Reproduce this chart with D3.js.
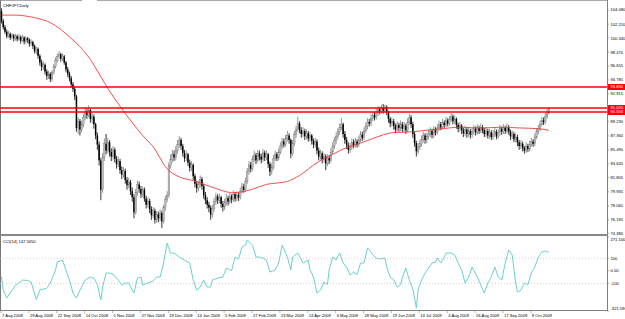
<!DOCTYPE html>
<html>
<head>
<meta charset="utf-8">
<script src="https://cdnjs.cloudflare.com/ajax/libs/d3/7.8.5/d3.min.js"></script>
<style>
  html, body { margin: 0; padding: 0; background: #fff; }
  svg { display: block; font-family: "Liberation Sans", Arial, sans-serif; }
</style>
</head>
<body>
<div id="chart"></div>
<script>
// CHFJPY daily, 7 Aug 2008 .. late Oct 2009 (one value per bar, open = previous close)
const firstOpen = 103.9;
const closes = [
  102.6,101.8,101.2,100.6,100.9,100.4,100.7,100.3,100.6,100.2,
  100.5,100.0,100.4,99.9,100.3,100.1,99.6,99.8,99.3,98.6,
  98.9,98.0,97.1,96.5,96.8,95.9,95.3,95.6,94.9,95.8,
  96.6,97.4,97.9,98.2,97.6,97.9,97.1,96.2,95.6,95.0,
  94.2,93.6,92.6,88.4,89.3,88.2,88.9,89.8,90.6,90.1,
  90.8,89.6,89.9,88.9,87.4,86.2,84.1,80.2,84.5,86.3,
  85.4,86.5,85.2,84.6,85.5,84.3,83.6,84.0,82.8,82.2,
  82.7,81.5,80.8,81.2,80.0,79.2,77.2,79.8,80.9,80.3,
  79.6,80.2,79.0,78.2,78.7,77.6,76.8,77.4,76.2,76.9,
  76.4,77.1,76.0,77.8,78.9,79.4,83.4,84.2,84.9,84.5,
  85.4,86.2,86.8,86.0,85.1,84.4,84.9,83.8,83.1,83.5,
  82.0,81.0,80.4,80.9,81.6,80.7,79.5,78.8,78.2,77.8,
  76.9,77.7,78.6,79.3,78.8,79.2,78.3,77.9,78.5,79.1,
  78.6,79.3,78.9,79.6,79.0,79.5,79.2,80.0,80.6,80.2,
  81.3,82.6,83.5,83.0,84.2,84.8,84.1,85.0,84.6,84.2,
  85.1,84.5,84.9,83.6,82.6,83.2,84.3,84.9,84.4,85.2,
  86.0,86.6,86.2,87.0,87.4,86.8,85.0,86.3,87.5,88.2,
  89.0,88.1,87.6,88.0,87.3,87.7,87.0,87.4,86.7,86.2,
  86.6,85.4,84.6,85.0,84.2,84.6,83.7,84.4,84.1,85.2,
  86.0,86.7,87.3,87.9,88.5,88.9,87.6,86.8,86.1,85.5,
  85.9,86.5,86.1,86.6,86.2,86.8,87.5,87.1,88.0,88.6,
  89.2,89.0,89.7,90.1,89.8,90.4,90.9,90.6,91.1,90.7,
  91.2,90.5,89.6,89.0,89.3,88.7,88.2,88.8,88.4,88.9,
  88.3,88.7,88.1,89.2,89.8,88.9,87.6,86.4,85.3,85.9,
  86.3,86.9,87.4,86.8,87.3,87.6,88.0,87.5,88.2,87.8,
  88.4,88.9,88.5,89.1,88.8,89.4,89.0,89.5,89.9,89.3,
  89.6,88.8,88.3,88.7,88.1,87.7,88.2,87.6,88.0,87.5,
  87.9,88.3,87.8,88.4,88.0,88.5,88.1,87.6,88.0,87.4,
  87.8,87.2,87.6,87.9,87.3,87.8,88.3,87.9,88.4,88.0,
  88.5,87.9,87.3,87.6,86.9,87.2,86.5,86.0,86.3,85.7,
  85.4,86.0,85.6,86.2,86.6,86.3,87.2,87.9,88.3,88.9,
  89.4,89.2,89.9,90.4,90.9
];
const highs = [
  104.3,102.9,102.1,101.5,101.3,101.1,101.0,100.9,100.9,100.8,
  100.9,100.7,100.8,100.6,100.6,100.5,100.3,100.2,100.0,99.5,
  99.2,99.1,98.2,97.5,97.3,97.0,96.2,96.0,95.8,96.1,
  96.9,97.8,98.3,98.6,98.4,98.3,98.1,97.3,96.5,95.9,
  95.3,94.5,93.9,92.8,89.8,89.6,89.4,90.3,91.2,91.0,
  91.4,91.0,90.4,90.2,89.1,87.8,86.6,84.4,85.1,87.0,
  87.6,87.1,86.8,85.7,86.0,85.8,84.7,84.6,84.3,83.3,
  83.2,83.0,81.9,81.8,81.5,80.5,79.6,80.3,81.4,81.3,
  80.7,80.6,80.5,79.4,79.2,79.0,78.0,77.9,77.7,77.4,
  77.3,77.6,77.4,78.2,79.4,80.0,83.8,84.9,85.5,85.4,
  86.0,86.8,87.3,87.1,86.3,85.5,85.4,85.1,84.2,84.0,
  83.7,82.3,81.4,81.4,82.1,81.9,81.0,79.9,79.2,78.6,
  78.1,78.2,79.1,79.8,79.6,79.7,79.4,78.7,79.0,79.6,
  79.4,79.8,79.6,80.1,79.9,80.0,79.8,80.5,81.1,81.0,
  81.8,83.1,84.0,83.9,84.7,85.4,85.1,85.5,85.4,85.0,
  85.6,85.4,85.4,85.1,83.9,83.7,84.8,85.4,85.2,85.7,
  86.5,87.1,87.0,87.5,88.0,87.7,87.0,86.8,88.0,88.7,
  89.9,89.3,88.5,88.5,88.3,88.2,88.0,87.9,87.6,87.0,
  87.1,86.9,85.8,85.5,85.3,85.1,84.9,84.9,84.8,85.7,
  86.5,87.2,87.8,88.4,89.0,89.7,89.1,88.0,87.2,86.5,
  86.4,87.0,86.9,87.1,86.9,87.3,88.0,87.9,88.5,89.1,
  89.7,89.6,90.2,90.6,90.5,90.9,91.3,91.2,91.5,91.6,
  91.5,91.4,90.7,89.9,89.8,89.6,89.0,89.3,89.1,89.4,
  89.2,89.2,89.0,89.7,90.3,90.1,89.2,88.0,86.7,86.4,
  86.8,87.4,87.9,87.7,87.8,88.1,88.5,88.3,88.7,88.5,
  88.9,89.4,89.2,89.6,89.4,89.9,89.7,90.0,90.4,90.2,
  90.1,89.8,89.1,89.2,88.9,88.4,88.7,88.5,88.5,88.3,
  88.4,88.8,88.6,88.9,88.7,89.0,88.8,88.4,88.5,88.3,
  88.3,88.1,88.1,88.4,88.2,88.3,88.8,88.6,88.9,88.7,
  89.0,88.8,88.2,88.1,87.9,87.7,87.5,86.8,86.8,86.6,
  86.0,86.5,86.3,86.7,87.1,86.9,87.7,88.4,88.8,89.4,
  89.9,89.8,90.4,90.9,91.2
];
const lows = [
  102.3,101.5,100.9,100.3,100.4,100.1,100.2,99.9,100.0,99.9,
  100.0,99.6,99.8,99.5,99.6,99.7,99.2,99.3,98.9,98.3,
  98.2,97.6,96.7,96.0,96.1,95.5,94.8,94.9,94.5,94.6,
  95.5,96.3,97.1,97.6,97.2,97.3,96.8,95.8,95.2,94.6,
  93.8,93.2,92.1,87.9,87.6,87.4,87.8,88.5,89.4,89.6,
  89.8,89.1,89.0,88.3,86.9,85.5,83.4,78.8,79.8,84.0,
  84.9,85.0,84.6,84.0,84.2,83.8,83.0,83.2,82.3,81.6,
  81.8,81.0,80.2,80.4,79.5,78.6,76.4,76.9,79.4,79.8,
  79.1,79.2,78.6,77.7,77.8,77.1,76.2,76.4,75.7,75.8,
  75.9,76.0,75.1,75.7,77.4,78.5,79.1,83.0,83.8,84.0,
  84.1,85.0,85.8,85.5,84.6,83.9,84.0,83.3,82.6,82.7,
  81.5,80.5,79.8,80.0,80.5,80.2,79.0,78.3,77.7,77.2,
  76.2,76.5,77.3,78.2,78.3,78.4,77.8,77.3,77.5,78.1,
  78.1,78.3,78.4,78.6,78.6,78.7,78.7,78.9,79.7,79.8,
  79.9,81.0,82.2,82.5,82.7,83.9,83.6,83.8,84.1,83.7,
  83.9,84.0,84.1,83.1,82.0,82.2,82.9,84.0,84.0,84.1,
  84.9,85.6,85.8,85.9,86.6,86.3,84.4,84.7,86.0,87.1,
  87.9,87.7,87.1,87.2,86.8,86.9,86.6,86.6,86.2,85.7,
  85.8,84.9,84.1,84.2,83.7,83.8,82.8,83.3,83.6,83.8,
  84.9,85.6,86.3,86.9,87.5,88.1,87.1,86.3,85.6,85.0,
  85.1,85.5,85.7,85.8,85.8,85.9,86.5,86.7,86.8,87.7,
  88.2,88.6,88.7,89.3,89.4,89.5,90.0,90.2,90.3,90.3,
  90.4,90.1,89.1,88.5,88.6,88.2,87.7,87.9,87.9,88.0,
  87.8,87.9,87.6,87.8,88.8,88.4,87.1,85.9,84.6,84.9,
  85.5,85.9,86.5,86.3,86.4,86.9,87.2,87.0,87.1,87.4,
  87.5,88.0,88.1,88.2,88.4,88.5,88.6,88.7,89.2,88.9,
  88.9,88.3,87.8,87.9,87.6,87.2,87.3,87.1,87.2,87.0,
  87.1,87.5,87.4,87.5,87.6,87.7,87.7,87.2,87.2,87.0,
  87.0,86.8,86.8,87.2,86.9,87.0,87.4,87.5,87.6,87.6,
  87.7,87.5,86.8,86.9,86.5,86.5,86.0,85.5,85.6,85.3,
  85.0,85.1,85.2,85.3,85.9,85.9,86.0,86.9,87.6,88.0,
  88.6,88.8,88.9,89.6,90.2
];

// moving average at these bars
const maBars   = [0,8,16,22,28,34,39,45,51,56,62,68,75,81,87,95,102,110,120,133,143,152,164,171,181,190,198,206,213,225,236,244,252,264,275,286,298,308,314];
const maValues = [103.4,103.4,103.2,102.9,102.4,101.5,100.5,99.2,97.5,95.6,93.3,91.3,89.1,87.4,85.9,83.0,81.9,81.4,80.6,79.8,80.2,80.9,81.3,82.1,83.8,84.9,85.8,86.4,87.0,87.8,87.9,88.1,88.3,88.5,88.4,88.5,88.4,88.3,88.1];

// CCI(14)
const cciBars = [0,1,3,5,8,10,12,15,17,20,22,26,28,31,32,35,37,39,41,43,45,48,51,53,55,57,58,60,62,64,67,69,71,73,75,76,78,80,81,84,87,89,91,93,95,97,99,102,105,108,110,112,114,116,118,120,121,124,127,129,132,134,136,138,140,141,144,146,148,150,152,154,157,159,161,164,166,167,170,173,176,177,179,181,183,185,187,188,190,192,194,196,198,200,202,204,206,208,210,211,213,215,217,220,221,223,225,227,229,230,232,234,236,238,239,241,243,245,247,249,250,252,254,255,258,260,262,264,266,268,270,273,275,277,279,281,283,285,287,289,291,293,295,296,298,300,302,304,306,308,310,312,314];
const cciValues = [-47,-154,-218,-178,-114,-98,-74,-78,-90,-230,-154,-140,-98,6,70,86,6,-74,-178,-218,-154,-74,-50,-60,-110,-234,-130,-18,-18,-26,-74,-114,-98,-98,-154,-178,-58,-50,-114,-98,-82,-50,-50,62,222,142,142,110,86,62,-74,-154,-130,-74,-130,-130,-74,-58,-50,22,0,110,94,190,206,246,206,110,110,102,86,-10,6,62,206,110,6,110,142,62,86,10,-50,-178,-154,-90,-110,6,110,86,142,62,30,-34,-10,-30,62,62,182,170,126,102,94,102,30,-50,-70,-130,-110,-50,22,-74,-146,-298,-154,-74,-18,22,62,70,102,62,110,142,142,126,62,6,-98,-50,30,-50,-114,-178,-98,-50,30,-50,-74,62,166,126,-98,-170,-154,-98,-110,-18,30,110,150,158,147.565];

const dateTickBars = [0,16,32,48,64,80,96,112,128,144,160,176,192,208,224,240,256,272,288,304];
const dateTickLabels = ["7 Aug 2008","29 Aug 2008","22 Sep 2008","14 Oct 2008","5 Nov 2008","27 Nov 2008","19 Dec 2008","14 Jan 2009","5 Feb 2009","27 Feb 2009","23 Mar 2009","14 Apr 2009","6 May 2009","28 May 2009","19 Jun 2009","13 Jul 2009","4 Aug 2009","26 Aug 2009","17 Sep 2009","9 Oct 2009"];
const priceTicks = [104.080,102.210,100.340,98.470,96.655,94.785,92.915,91.045,89.230,87.360,85.490,83.620,81.805,79.935,78.065,76.195,74.380];
const levelLines = [93.830, 91.020, 90.550];
const cciTicks = [271.1, 100, 0, -100, -321.59];
const cciTickLabels = ["271.100", "100", "0.00", "-100", "-321.590"];

const W = 625, H = 319;
const plotRight = 607;
const nBars = closes.length;

const svg = d3.select("#chart").append("svg")
  .attr("width", W).attr("height", H)
  .attr("viewBox", `0 0 ${W} ${H}`);

svg.append("rect").attr("width", W).attr("height", H).attr("fill", "#fff");

const x = d3.scaleLinear().domain([0, nBars - 1]).range([1.5, 1.5 + (nBars - 1) * 1.743]);
const y = d3.scaleLinear().domain([74.38, 104.08]).range([233.5, 10]);
const yc = d3.scaleLinear().domain([-321.59, 271.1]).range([311, 236.9]);

// frame
svg.append("line").attr("x1", 0).attr("x2", 82).attr("y1", 0.5).attr("y2", 0.5).attr("stroke", "#a8a8a8");
svg.append("line").attr("x1", 97).attr("x2", plotRight).attr("y1", 0.5).attr("y2", 0.5).attr("stroke", "#a8a8a8");
svg.append("line").attr("x1", 0.5).attr("x2", 0.5).attr("y1", 0).attr("y2", 311).attr("stroke", "#777");
svg.append("line").attr("x1", plotRight + 0.5).attr("x2", plotRight + 0.5).attr("y1", 0).attr("y2", 311).attr("stroke", "#808080");
svg.append("line").attr("x1", 0).attr("x2", plotRight + 1).attr("y1", 235).attr("y2", 235).attr("stroke", "#888").attr("stroke-width", 2);
svg.append("line").attr("x1", 0).attr("x2", plotRight + 1).attr("y1", 310.5).attr("y2", 310.5).attr("stroke", "#808080");

const fs = 4.1;

// price axis labels
svg.append("g").selectAll("g").data(priceTicks).join("g")
  .attr("transform", d => `translate(${plotRight}, ${y(d)})`)
  .call(g => g.append("line").attr("x1", 0).attr("x2", 2).attr("stroke", "#808080").attr("stroke-width", 0.6))
  .call(g => g.append("text").attr("x", 3.5).attr("dy", "0.35em").attr("font-size", fs).attr("fill", "#000")
    .text(d => d.toFixed(3)));

// CCI axis labels (top and bottom labels kept inside the panel, as the terminal does)
svg.append("g").selectAll("g").data(cciTicks).join("g")
  .attr("transform", d => `translate(${plotRight}, ${yc(d)})`)
  .call(g => g.append("line").attr("x1", 0).attr("x2", 2).attr("stroke", "#808080").attr("stroke-width", 0.6))
  .call(g => g.append("text").attr("x", 3.5)
    .attr("y", d => Math.max(240, Math.min(308.2, yc(d))) - yc(d))
    .attr("dy", "0.35em").attr("font-size", fs).attr("fill", "#000")
    .text((d, i) => cciTickLabels[i]));

// date labels
svg.append("g").selectAll("g").data(dateTickBars).join("g")
  .attr("transform", d => `translate(${x(d) - 0.5}, 311)`)
  .call(g => g.append("line").attr("y1", 0).attr("y2", 2).attr("stroke", "#808080").attr("stroke-width", 0.6))
  .call(g => g.append("text").attr("x", 1).attr("y", 6.3).attr("font-size", fs).attr("fill", "#000")
    .text((d, i) => dateTickLabels[i]));

// candles
const bars = closes.map((c, i) => ({
  i, c, o: i === 0 ? firstOpen : closes[i - 1], h: highs[i], l: lows[i]
}));
const candles = svg.append("g");
candles.selectAll("line").data(bars).join("line")
  .attr("x1", d => x(d.i)).attr("x2", d => x(d.i))
  .attr("y1", d => y(d.h)).attr("y2", d => y(d.l))
  .attr("stroke", d => d.c >= d.o ? "#7a7a7a" : "#000")
  .attr("stroke-width", 0.8);
candles.selectAll("rect").data(bars).join("rect")
  .attr("x", d => x(d.i) - 0.75).attr("width", 1.5)
  .attr("y", d => y(Math.max(d.o, d.c)))
  .attr("height", d => Math.max(0.6, Math.abs(y(d.o) - y(d.c))))
  .attr("fill", d => d.c >= d.o ? "#c0c0c0" : "#000")
  .attr("stroke", d => d.c >= d.o ? "#7a7a7a" : "none")
  .attr("stroke-width", 0.4);

// moving average
svg.append("path")
  .datum(maBars.map((b, k) => [b, maValues[k]]))
  .attr("fill", "none").attr("stroke", "#f03c3c").attr("stroke-width", 0.9)
  .attr("d", d3.line().x(d => x(d[0])).y(d => y(d[1])).curve(d3.curveMonotoneX));

// horizontal level lines
svg.append("g").selectAll("line").data(levelLines).join("line")
  .attr("x1", 0).attr("x2", plotRight)
  .attr("y1", d => Math.round(y(d))).attr("y2", d => Math.round(y(d)))
  .attr("stroke", "#ff0000").attr("stroke-width", 1.4);
svg.append("g").selectAll("g").data(levelLines).join("g")
  .attr("transform", d => `translate(${plotRight + 1}, ${Math.round(y(d))})`)
  .call(g => g.append("rect").attr("x", 0).attr("y", -3).attr("width", 17).attr("height", 6).attr("fill", "#ff0000"))
  .call(g => g.append("text").attr("x", 2.5).attr("dy", "0.35em").attr("font-size", fs).attr("fill", "#fff")
    .text(d => d.toFixed(3)));

// CCI levels and line
svg.append("g").selectAll("line").data([100, -100]).join("line")
  .attr("x1", 0).attr("x2", plotRight)
  .attr("y1", d => yc(d)).attr("y2", d => yc(d))
  .attr("stroke", "#d8b0a8").attr("stroke-width", 0.7).attr("stroke-dasharray", "1,2");
svg.append("path")
  .datum(cciBars.map((b, k) => [b, cciValues[k]]))
  .attr("fill", "none").attr("stroke", "#6cd0d0").attr("stroke-width", 1)
  .attr("d", d3.line().x(d => x(d[0])).y(d => yc(d[1])));

// titles
svg.append("text").attr("x", 3).attr("y", 6.5).attr("font-size", fs).attr("fill", "#000").text("CHFJPY,Daily");
svg.append("text").attr("x", 3).attr("y", 242.5).attr("font-size", fs).attr("fill", "#000").text("CCI(14) 147.5650");
</script>
</body>
</html>
